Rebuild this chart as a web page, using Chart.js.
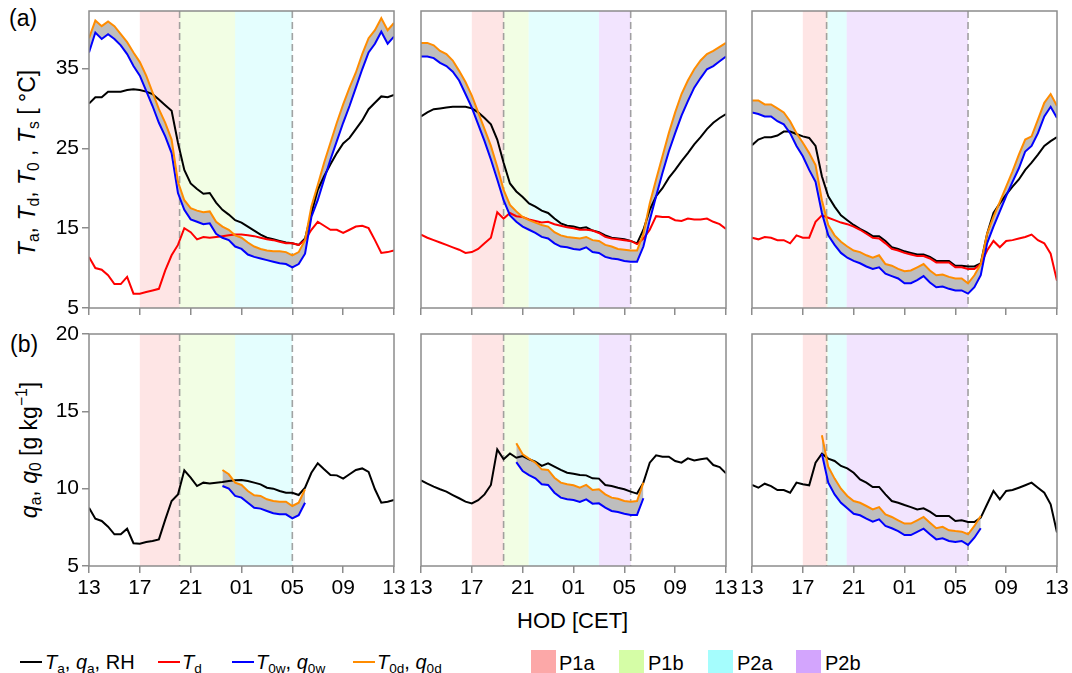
<!DOCTYPE html>
<html><head><meta charset="utf-8">
<script src="https://cdn.jsdelivr.net/npm/chart.js@4/dist/chart.umd.min.js"></script>
<style>
html,body{margin:0;padding:0;background:#fff;}
body{width:1072px;height:673px;position:relative;overflow:hidden;font-family:'Liberation Sans',Arial,sans-serif;color:#000;}
canvas{position:absolute;}
.t{position:absolute;white-space:nowrap;line-height:1;}
.t sub,.ylab sub{font-size:0.68em;vertical-align:-0.28em;line-height:0;}
.t sup,.ylab sup{font-size:0.68em;vertical-align:0.6em;line-height:0;}
.ylab{position:absolute;white-space:nowrap;line-height:1;transform:translate(-50%,-50%) rotate(-90deg);font-size:23px;}
.sw{position:absolute;height:2px;width:22px;}
.sq{position:absolute;width:25px;height:23px;}
</style></head><body>
<div class="t" style="left:9px;top:7px;font-size:23px">(a)</div>
<div class="t" style="left:10px;top:333px;font-size:23px">(b)</div>
<div class="ylab" style="left:27px;top:163px"><i>T</i><sub>a</sub>, <i>T</i><sub>d</sub>, <i>T</i><sub>0</sub> , <i>T</i><sub>s</sub> [ °C]</div>
<div class="ylab" style="left:29px;top:450px"><i>q</i><sub>a</sub>, <i>q</i><sub>0</sub> [g kg<sup>−1</sup>]</div>
<div class="t" style="left:517px;top:610px;font-size:22px">HOD [CET]</div>

<div class="sw" style="left:20px;top:661px;background:#000"></div>
<div class="t" style="left:45px;top:652px;font-size:20px"><i>T</i><sub>a</sub>, <i>q</i><sub>a</sub>, RH</div>
<div class="sw" style="left:158px;top:661px;background:#ff0000"></div>
<div class="t" style="left:182px;top:652px;font-size:20px"><i>T</i><sub>d</sub></div>
<div class="sw" style="left:232px;top:661px;background:#0000ff"></div>
<div class="t" style="left:256px;top:652px;font-size:20px"><i>T</i><sub>0w</sub>, <i>q</i><sub>0w</sub></div>
<div class="sw" style="left:353px;top:661px;background:#ff8c00"></div>
<div class="t" style="left:377px;top:652px;font-size:20px"><i>T</i><sub>0d</sub>, <i>q</i><sub>0d</sub></div>

<div class="sq" style="left:531px;top:650px;background:#fca8a8"></div>
<div class="t" style="left:559px;top:653px;font-size:20px">P1a</div>
<div class="sq" style="left:619px;top:650px;background:#d5fda6"></div>
<div class="t" style="left:648px;top:653px;font-size:20px">P1b</div>
<div class="sq" style="left:708px;top:650px;background:#a5fdfd"></div>
<div class="t" style="left:737px;top:653px;font-size:20px">P2a</div>
<div class="sq" style="left:796px;top:650px;background:#d3a5fd"></div>
<div class="t" style="left:825px;top:653px;font-size:20px">P2b</div>

<script>
const N = null;
// hours since 13:00 CET, half-hourly
const HOURS = [0,0.5,1,1.5,2,2.5,3,3.5,4,4.5,5,5.5,6,6.5,7,7.5,8,8.5,9,9.5,10,10.5,11,11.5,12,12.5,13,13.5,14,14.5,15,15.5,16,16.5,17,17.5,18,18.5,19,19.5,20,20.5,21,21.5,22,22.5,23,23.5,24];
const X_TICKS = [0,4,8,12,16,20,24];
const X_TICK_LABELS = ['13','17','21','01','05','09','13'];
const T_TICKS = [5,15,25,35];
const Q_TICKS = [5,10,15,20];
const T_RANGE = [5,42.2];
const Q_RANGE = [5,20];

// Period bounds (hours since 13:00) for the three columns
const P1A = [[4,7.13],[4,6.5],[4,5.87]];
const P1B = [[7.13,11.5],[6.5,8.47],[5.87,5.95]];
const P2A = [[11.5,16],[8.47,14],[5.95,7.45]];
const P2B = [null,[14,16.5],[7.45,17]];
const DASHED = [[7.13,16],[6.5,16.5],[5.87,17]];

// (a) temperatures
const TA_1 = [30.6,31.4,31.4,32.1,32.1,32.1,32.3,32.4,32.3,32.1,31.8,31.1,30.4,29.7,25.7,22.3,20.6,19.9,19.3,19.4,18.2,17.3,16.7,16.0,15.7,15.2,14.7,14.2,13.8,13.6,13.4,13.2,13.1,12.9,13.7,16.9,19.8,21.5,23.0,24.4,25.6,26.3,27.4,28.5,29.9,30.7,31.5,31.4,31.7];
const TD_1 = [11.4,10.0,9.8,9.1,8.0,8.0,8.9,6.8,6.8,7.0,7.2,7.4,9.7,11.6,12.9,15.0,14.5,13.6,13.9,13.8,13.9,14.0,14.1,14.2,14.2,14.1,14.0,13.8,13.6,13.5,13.3,13.1,13.1,12.9,13.5,14.8,15.8,15.3,14.8,14.8,14.4,14.8,15.2,15.3,15.0,13.5,11.9,12.0,12.2];
const T0W_1 = [37.0,39.5,38.7,39.3,38.7,37.9,36.8,35.3,34.1,32.2,30.3,28.2,26.5,24.4,19.4,17.3,16.1,15.8,15.5,15.6,14.3,13.8,13.5,12.7,12.4,11.7,11.4,11.2,11.0,10.8,10.6,10.5,10.1,10.5,11.8,16.4,18.5,21.1,23.6,25.9,28.2,30.3,32.6,34.9,37.0,38.1,39.6,38.1,39.0];
const T0D_1 = [38.8,41.0,40.3,40.9,40.3,39.3,38.3,37.0,35.8,34.1,32.0,29.9,28.2,26.1,20.8,18.5,17.5,17.2,17.0,17.1,15.8,15.2,14.8,14.1,13.8,13.2,12.7,12.4,12.2,12.1,12.1,12.0,11.6,12.0,13.5,17.7,20.4,23.2,25.7,28.2,30.5,32.6,34.5,36.8,38.8,39.8,41.3,39.8,40.7];

const TA_2 = [29.0,29.5,29.9,30.0,30.1,30.2,30.2,30.2,30.0,29.5,28.8,28.0,26.1,23.2,20.6,19.6,18.9,18.1,17.7,17.2,16.9,16.2,15.6,15.3,15.2,15.0,15.1,14.7,14.5,14.1,13.8,13.7,13.6,13.4,13.1,14.8,17.3,19.0,20.0,21.3,22.3,23.4,24.4,25.5,26.4,27.4,28.2,28.8,29.3];
const TD_2 = [14.2,13.8,13.5,13.2,12.9,12.6,12.3,11.9,12.0,12.4,13.1,13.8,17.0,16.2,16.9,16.5,16.4,16.1,15.9,15.7,15.8,15.5,15.3,15.1,15.0,14.8,14.8,14.7,14.4,13.9,13.7,13.6,13.5,13.4,13.0,13.7,14.8,16.5,16.4,16.4,16.0,15.9,16.2,16.1,16.1,16.2,15.8,15.5,14.9];
const T0W_2 = [36.5,36.5,36.3,35.7,35.3,34.6,33.5,31.8,30.1,28.0,25.9,23.6,21.1,18.5,16.6,15.8,15.2,14.8,14.4,13.9,13.7,13.1,12.7,12.6,12.4,12.3,12.6,12.0,11.9,11.4,11.2,11.1,10.9,10.8,10.8,12.7,16.0,19.0,21.9,24.6,26.9,29.1,30.9,32.6,33.8,34.9,35.3,35.9,36.5];
const T0D_2 = [38.2,38.2,37.9,37.2,36.8,36.0,34.7,33.3,31.6,29.5,27.4,25.3,22.7,19.8,17.9,17.1,16.4,16.0,15.7,15.4,15.2,14.5,14.1,13.9,13.8,13.7,13.9,13.5,13.4,12.9,12.7,12.4,12.3,12.2,12.2,14.3,18.1,21.1,24.0,26.9,29.5,31.8,33.5,34.9,36.0,36.8,37.2,37.7,38.2];

const TA_3 = [25.4,26.1,26.4,26.4,26.6,27.1,27.1,26.8,26.5,26.3,25.3,21.5,19.0,17.7,16.6,16.0,15.4,14.9,14.5,14.0,14.0,13.4,12.6,12.4,12.1,11.9,11.7,11.7,11.4,10.9,10.9,10.9,10.3,10.3,10.2,10.2,10.6,14.3,16.9,18.1,19.2,20.2,21.1,22.3,23.2,24.2,25.3,25.9,26.4];
const TD_3 = [13.8,13.6,13.9,13.8,13.5,13.5,13.1,14.1,13.8,13.8,15.8,16.6,16.3,16.0,15.7,15.5,15.2,14.8,14.3,13.8,13.7,13.1,12.4,12.2,11.9,11.7,11.5,11.5,11.2,10.7,10.7,10.7,10.1,10.1,9.9,9.9,10.5,12.2,13.4,12.6,13.4,13.5,13.7,13.9,14.2,13.5,13.1,11.8,8.4];
const T0W_3 = [29.5,29.3,29.0,29.0,28.4,28.0,26.9,25.3,24.0,22.3,20.8,16.9,14.1,12.9,11.9,11.3,10.9,10.6,10.2,9.9,10.1,9.3,9.0,8.7,8.1,8.1,8.5,9.0,8.2,7.6,7.7,7.4,7.2,7.2,6.8,7.6,9.1,13.1,15.2,17.1,19.0,20.8,22.5,24.6,25.3,26.9,29.0,30.2,28.8];
const T0D_3 = [31.0,31.0,30.5,30.5,30.0,29.5,28.4,26.9,25.7,24.4,22.9,18.5,15.4,14.1,13.3,12.7,12.2,12.0,11.6,11.3,11.6,10.5,10.3,9.9,9.6,9.7,10.1,10.5,9.7,9.1,9.2,8.9,8.7,8.7,8.1,9.1,10.5,14.3,16.4,18.3,20.2,22.1,24.2,26.1,26.5,28.6,30.7,31.8,30.3];

// (b) specific humidity
const QA_1 = [8.77,8.06,7.91,7.54,7.05,7.05,7.41,6.47,6.44,6.55,6.62,6.72,8.0,9.2,9.63,11.19,10.71,10.17,10.39,10.34,10.39,10.43,10.5,10.54,10.56,10.5,10.39,10.28,10.06,10.0,9.85,9.74,9.74,9.59,10.06,11.03,11.64,11.25,10.88,10.86,10.65,10.93,11.21,11.31,11.08,9.96,9.09,9.16,9.27];
const Q0W_1 = [N,N,N,N,N,N,N,N,N,N,N,N,N,N,N,N,N,N,N,N,N,10.17,10.0,9.53,9.42,9.09,8.77,8.71,8.56,8.41,8.34,8.34,8.08,8.28,9.09,N,N,N,N,N,N,N,N,N,N,N,N,N,N];
const Q0D_1 = [N,N,N,N,N,N,N,N,N,N,N,N,N,N,N,N,N,N,N,N,N,11.21,10.93,10.39,10.24,9.85,9.57,9.53,9.31,9.2,9.16,9.16,8.88,9.09,9.96,N,N,N,N,N,N,N,N,N,N,N,N,N,N];

const QA_2 = [10.54,10.32,10.13,9.96,9.81,9.59,9.38,9.16,9.05,9.25,9.63,10.24,12.54,11.9,12.28,12.0,12.11,11.9,11.75,11.47,11.64,11.42,11.21,11.03,10.97,10.88,10.86,10.67,10.65,10.24,10.17,10.06,9.96,9.81,9.68,10.39,11.68,12.16,12.07,12.07,11.79,11.68,11.96,11.83,11.9,11.96,11.53,11.4,10.99];
const Q0W_2 = [N,N,N,N,N,N,N,N,N,N,N,N,N,N,N,11.72,11.14,10.88,10.67,10.28,10.24,9.74,9.42,9.31,9.27,9.14,9.31,9.03,9.05,8.77,8.56,8.49,8.38,8.3,8.3,9.38,N,N,N,N,N,N,N,N,N,N,N,N,N];
const Q0D_2 = [N,N,N,N,N,N,N,N,N,N,N,N,N,N,N,12.93,12.22,11.94,11.68,11.25,11.21,10.71,10.39,10.28,10.22,10.06,10.24,9.91,9.96,9.63,9.42,9.35,9.2,9.16,9.2,10.39,N,N,N,N,N,N,N,N,N,N,N,N,N];

const QA_3 = [10.24,10.06,10.32,10.17,9.91,9.91,9.74,10.39,10.28,10.22,11.68,12.26,11.94,11.79,11.47,11.31,11.03,10.6,10.39,10.11,10.11,9.63,9.2,9.09,8.94,8.81,8.66,8.73,8.51,8.23,8.23,8.23,7.91,7.95,7.84,7.84,8.13,8.99,9.85,9.31,9.85,9.91,10.06,10.22,10.39,10.06,9.74,8.99,7.16];
const Q0W_3 = [N,N,N,N,N,N,N,N,N,N,N,12.26,10.39,9.63,9.09,8.73,8.38,8.28,8.06,7.87,8.02,7.59,7.44,7.26,7.0,7.0,7.2,7.41,7.05,6.72,6.79,6.62,6.55,6.62,6.36,6.83,7.44,N,N,N,N,N,N,N,N,N,N,N,N];
const Q0D_3 = [N,N,N,N,N,N,N,N,N,N,N,13.45,11.42,10.65,10.0,9.53,9.2,9.09,8.88,8.66,8.81,8.34,8.17,7.95,7.74,7.74,7.95,8.17,7.8,7.44,7.53,7.31,7.26,7.22,7.05,7.59,8.23,N,N,N,N,N,N,N,N,N,N,N,N];

const TA = [TA_1,TA_2,TA_3], TD = [TD_1,TD_2,TD_3], T0W = [T0W_1,T0W_2,T0W_3], T0D = [T0D_1,T0D_2,T0D_3];
const QA = [QA_1,QA_2,QA_3], Q0W = [Q0W_1,Q0W_2,Q0W_3], Q0D = [Q0D_1,Q0D_2,Q0D_3];

// ---- layout / style ----
Chart.defaults.font.family = "'Liberation Sans', Arial, sans-serif";
Chart.defaults.color = '#000';
const COL_LEFT = [89, 421, 752];
const PLOT_W = 305;
const ROW_TOP = [11, 334];
const ROW_H = [297, 232];
const YW = 60, XH = 40, PT = 10, PR = 14;
const AXIS_COL = '#8c8c8c';
const BAND_COLORS = ['rgba(252,168,168,0.3)','rgba(213,253,166,0.3)','rgba(165,253,253,0.3)','rgba(211,165,253,0.3)'];

const periodPlugin = {
  id: 'periods',
  beforeDraw(chart, args, opts) {
    const {ctx, chartArea: a, scales: {x}} = chart;
    ctx.save();
    opts.bands.forEach((r, i) => {
      if (!r) return;
      const x0 = x.getPixelForValue(r[0]), x1 = x.getPixelForValue(r[1]);
      ctx.fillStyle = BAND_COLORS[i];
      ctx.fillRect(x0, a.top, x1 - x0, a.bottom - a.top);
    });
    ctx.setLineDash([7, 4]);
    ctx.strokeStyle = 'rgba(140,140,140,0.8)';
    ctx.lineWidth = 1.6;
    opts.dashes.forEach(h => {
      const px = x.getPixelForValue(h);
      ctx.beginPath(); ctx.moveTo(px, a.top); ctx.lineTo(px, a.bottom); ctx.stroke();
    });
    ctx.restore();
  },
  afterDraw(chart) {
    const {ctx, chartArea: a} = chart;
    ctx.save();
    ctx.strokeStyle = AXIS_COL; ctx.lineWidth = 1.5;
    ctx.strokeRect(a.left, a.top, a.right - a.left, a.bottom - a.top);
    ctx.restore();
  }
};

function pts(arr) { return HOURS.map((h, i) => ({x: h, y: arr[i]})); }
function line(label, arr, color, order, extra) {
  return Object.assign({label, data: pts(arr), borderColor: color, borderWidth: 2, pointRadius: 0,
    fill: false, tension: 0, spanGaps: false, order}, extra || {});
}

function makePanel(row, col) {
  const cv = document.createElement('canvas');
  const w = YW + PLOT_W + PR, h = PT + ROW_H[row] + XH;
  cv.width = w; cv.height = h;
  cv.style.width = w + 'px'; cv.style.height = h + 'px';
  cv.style.left = (COL_LEFT[col] - YW) + 'px';
  cv.style.top = (ROW_TOP[row] - PT) + 'px';
  document.body.appendChild(cv);

  const gray = {fill: '-1', backgroundColor: '#bebebe'};
  const datasets = row === 0 ? [
    line('Ta', TA[col], '#000000', 4),
    line('Td', TD[col], '#ff0000', 3),
    line('T0w', T0W[col], '#0000ff', 2),
    line('T0d', T0D[col], '#ff8c00', 1, gray)
  ] : [
    line('qa', QA[col], '#000000', 3),
    line('q0w', Q0W[col], '#0000ff', 2),
    line('q0d', Q0D[col], '#ff8c00', 1, gray)
  ];
  const yr = row === 0 ? T_RANGE : Q_RANGE;
  const yt = row === 0 ? T_TICKS : Q_TICKS;

  new Chart(cv, {
    type: 'line',
    data: {datasets},
    options: {
      responsive: false, animation: false, devicePixelRatio: 1,
      layout: {padding: {left: 0, top: PT, right: PR, bottom: 0}, autoPadding: false},
      plugins: {
        legend: {display: false}, tooltip: {enabled: false}, title: {display: false},
        filler: {drawTime: 'beforeDatasetsDraw'},
        periods: {bands: [P1A[col], P1B[col], P2A[col], P2B[col]], dashes: DASHED[col]}
      },
      scales: {
        x: {
          type: 'linear', min: 0, max: 24,
          afterBuildTicks: s => { s.ticks = X_TICKS.map(v => ({value: v})); },
          afterFit: s => { s.height = XH; s.paddingLeft = 0; s.paddingRight = 0; },
          ticks: {display: row === 1, autoSkip: false, maxRotation: 0, padding: 3,
            font: {size: 21}, callback: (v, i) => X_TICK_LABELS[i]},
          grid: {drawOnChartArea: false, drawTicks: true, tickLength: 7, color: AXIS_COL, lineWidth: 1.5},
          border: {display: false}
        },
        y: {
          type: 'linear', min: yr[0], max: yr[1],
          afterBuildTicks: s => { s.ticks = yt.map(v => ({value: v})); },
          afterFit: s => { s.width = YW; s.paddingTop = 0; s.paddingBottom = 0; },
          ticks: {display: col === 0, padding: 3, font: {size: 21}},
          grid: {drawOnChartArea: false, drawTicks: col === 0, tickLength: 7, color: AXIS_COL, lineWidth: 1.5},
          border: {display: false}
        }
      }
    },
    plugins: [periodPlugin]
  });
}

for (let r = 0; r < 2; r++) for (let c = 0; c < 3; c++) makePanel(r, c);
</script>
</body></html>
